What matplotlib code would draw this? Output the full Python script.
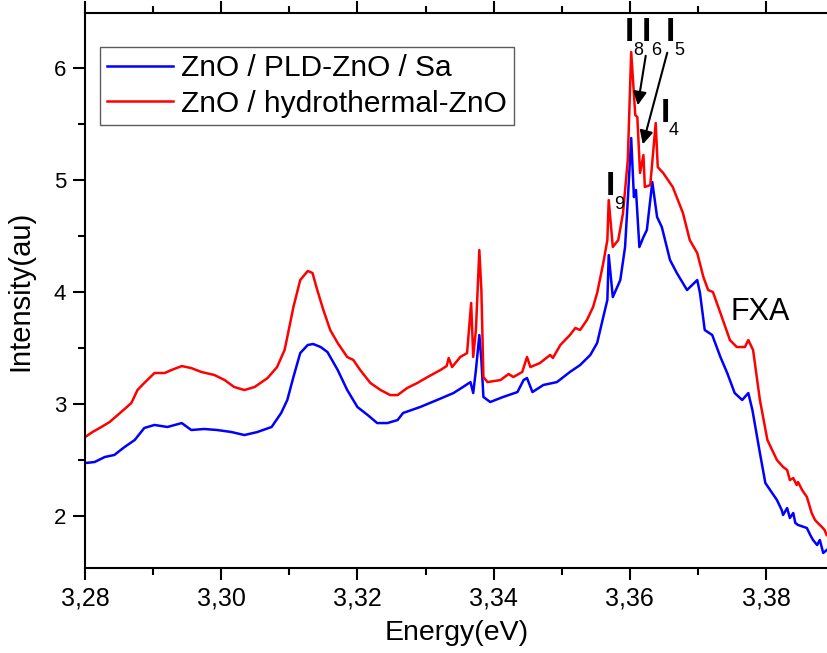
import matplotlib.pyplot as plt
from matplotlib.ticker import MultipleLocator

# photoluminescence spectra
energy_red = [3.2800, 3.2811, 3.2824, 3.2836, 3.2848, 3.2858, 3.2868, 3.2877, 3.2887, 3.2902,
              3.2917, 3.2927, 3.2942, 3.2956, 3.2971, 3.2990, 3.3005, 3.3019, 3.3034, 3.3049,
              3.3068, 3.3082, 3.3093, 3.3097, 3.3106, 3.3116, 3.3127, 3.3134, 3.3141, 3.3150,
              3.3160, 3.3171, 3.3185, 3.3194, 3.3204, 3.3219, 3.3234, 3.3248, 3.3259, 3.3273,
              3.3288, 3.3303, 3.3322, 3.3331, 3.3334, 3.3339, 3.3351, 3.3361, 3.3367, 3.3370,
              3.3374, 3.3379, 3.3382, 3.3385, 3.3391, 3.3410, 3.3422, 3.3429, 3.3442, 3.3449,
              3.3454, 3.3468, 3.3483, 3.3487, 3.3498, 3.3512, 3.3520, 3.3527, 3.3537, 3.3546,
              3.3552, 3.3561, 3.3567, 3.3569, 3.3575, 3.3583, 3.3590, 3.3597, 3.3602, 3.3608,
              3.3611, 3.3615, 3.3620, 3.3622, 3.3630, 3.3638, 3.3641, 3.3649, 3.3663, 3.3678,
              3.3688, 3.3699, 3.3708, 3.3715, 3.3722, 3.3733, 3.3747, 3.3757, 3.3769, 3.3774,
              3.3781, 3.3791, 3.3802, 3.3816, 3.3825, 3.3831, 3.3835, 3.3840, 3.3845, 3.3847,
              3.3853, 3.3860, 3.3867, 3.3872, 3.3876, 3.3882, 3.3886, 3.3889]
intensity_red = [2.705, 2.750, 2.795, 2.839, 2.902, 2.955, 3.009, 3.125, 3.188, 3.277,
                 3.277, 3.304, 3.339, 3.321, 3.286, 3.259, 3.214, 3.152, 3.125, 3.152,
                 3.232, 3.330, 3.482, 3.598, 3.866, 4.107, 4.188, 4.170, 4.018, 3.839,
                 3.661, 3.545, 3.420, 3.393, 3.304, 3.188, 3.125, 3.080, 3.080, 3.143,
                 3.188, 3.241, 3.304, 3.339, 3.411, 3.330, 3.420, 3.455, 3.902, 3.420,
                 3.661, 4.375, 4.018, 3.241, 3.196, 3.214, 3.268, 3.241, 3.286, 3.420,
                 3.330, 3.366, 3.438, 3.411, 3.527, 3.616, 3.679, 3.661, 3.750, 3.866,
                 3.991, 4.259, 4.464, 4.821, 4.402, 4.464, 4.705, 5.179, 6.143, 5.580,
                 5.563, 5.063, 5.223, 4.938, 4.955, 5.509, 5.116, 5.063, 4.938, 4.705,
                 4.464, 4.348, 4.134, 4.018, 4.000, 3.813, 3.571, 3.509, 3.509, 3.571,
                 3.482, 3.036, 2.679, 2.500, 2.438, 2.411, 2.321, 2.339, 2.277, 2.304,
                 2.232, 2.170, 2.027, 1.964, 1.938, 1.902, 1.875, 1.830]

energy_blue = [3.2800, 3.2814, 3.2829, 3.2843, 3.2858, 3.2873, 3.2887, 3.2902, 3.2921, 3.2942,
               3.2956, 3.2975, 3.2994, 3.3015, 3.3034, 3.3053, 3.3074, 3.3088, 3.3097, 3.3106,
               3.3116, 3.3127, 3.3135, 3.3146, 3.3156, 3.3171, 3.3185, 3.3200, 3.3215, 3.3229,
               3.3244, 3.3259, 3.3267, 3.3292, 3.3317, 3.3341, 3.3355, 3.3366, 3.3370, 3.3374,
               3.3379, 3.3382, 3.3385, 3.3395, 3.3414, 3.3435, 3.3444, 3.3449, 3.3457, 3.3473,
               3.3493, 3.3512, 3.3527, 3.3542, 3.3552, 3.3561, 3.3567, 3.3569, 3.3575, 3.3586,
               3.3593, 3.3597, 3.3602, 3.3606, 3.3609, 3.3614, 3.3620, 3.3625, 3.3633, 3.3640,
               3.3647, 3.3659, 3.3669, 3.3684, 3.3699, 3.3703, 3.3710, 3.3721, 3.3733, 3.3743,
               3.3754, 3.3765, 3.3774, 3.3780, 3.3791, 3.3799, 3.3806, 3.3816, 3.3823, 3.3825,
               3.3831, 3.3835, 3.3840, 3.3843, 3.3847, 3.3860, 3.3865, 3.3869, 3.3875, 3.3879,
               3.3884, 3.3889]
intensity_blue = [2.473, 2.482, 2.527, 2.545, 2.616, 2.679, 2.786, 2.813, 2.795, 2.830,
                  2.768, 2.777, 2.768, 2.750, 2.723, 2.750, 2.795, 2.920, 3.036, 3.241,
                  3.455, 3.527, 3.536, 3.509, 3.464, 3.304, 3.125, 2.973, 2.902, 2.830,
                  2.830, 2.857, 2.920, 2.973, 3.036, 3.098, 3.152, 3.196, 3.098, 3.304,
                  3.616, 3.393, 3.063, 3.018, 3.063, 3.107, 3.214, 3.232, 3.107, 3.170,
                  3.196, 3.286, 3.348, 3.438, 3.545, 3.777, 3.929, 4.330, 3.955, 4.107,
                  4.402, 4.821, 5.375, 4.848, 4.911, 4.402, 4.491, 4.554, 4.982, 4.670,
                  4.580, 4.286, 4.170, 4.018, 4.107, 3.991, 3.661, 3.616, 3.420, 3.277,
                  3.098, 3.036, 3.098, 2.946, 2.563, 2.295, 2.232, 2.143, 2.054, 2.009,
                  2.071, 1.982, 2.027, 1.938, 1.920, 1.893, 1.830, 1.786, 1.741, 1.786,
                  1.670, 1.696]

x_ticks = [3.28, 3.30, 3.32, 3.34, 3.36, 3.38]
x_tick_labels = ["3,28", "3,30", "3,32", "3,34", "3,36", "3,38"]
y_ticks = [2, 3, 4, 5, 6]

plt.rcParams['font.family'] = ['Liberation Sans', 'DejaVu Sans']

fig = plt.figure(figsize=(8.28, 6.53), dpi=100)
ax = fig.add_axes([0.1027, 0.1302, 0.8973, 0.8498])

ax.plot(energy_blue, intensity_blue, color="#0000ff", lw=1.8, label="ZnO / PLD-ZnO / Sa")
ax.plot(energy_red, intensity_red, color="#ff0000", lw=1.8, label="ZnO / hydrothermal-ZnO")

ax.set_xlim(3.28, 3.3891)
ax.set_ylim(1.536, 6.491)
ax.set_xticks(x_ticks)
ax.set_xticklabels(x_tick_labels)
ax.set_yticks(y_ticks)
ax.xaxis.set_minor_locator(MultipleLocator(0.01))
ax.yaxis.set_minor_locator(MultipleLocator(0.5))
ax.tick_params(which="both", direction="out", top=True, width=1.5)
ax.tick_params(which="major", length=8.5)
ax.tick_params(which="minor", length=5)
ax.tick_params(axis="x", labelsize=18, pad=5)
ax.tick_params(axis="y", labelsize=16, pad=5)
ax.spines["right"].set_visible(False)
for s in ["left", "bottom", "top"]:
    ax.spines[s].set_linewidth(1.5)

ax.set_xlabel("Energy(eV)", fontsize=20.5, labelpad=7)
ax.set_ylabel("Intensity(au)", fontsize=21, labelpad=14)

leg = ax.legend(loc="upper left", bbox_to_anchor=(0.02, 0.939), borderaxespad=0,
                fontsize=21.5, frameon=True, fancybox=False, edgecolor="#333333",
                handlelength=2.2, handletextpad=0.25, borderpad=0.25, labelspacing=0.25)
leg.get_frame().set_linewidth(1.0)

# peak labels
peaks = [("8", 3.3599, 6.313), ("6", 3.3625, 6.313), ("5", 3.3659, 6.313),
         ("4", 3.3652, 5.598), ("9", 3.3571, 4.938)]
for sub, xe, yi in peaks:
    ax.text(xe, yi, "I", fontsize=24, fontweight="bold", ha="center", va="center")
    ax.text(xe + 0.0013, yi - 0.16, sub, fontsize=13, ha="center", va="center")

ax.annotate("", xy=(3.3611, 5.643), xytext=(3.3624, 6.134),
            arrowprops=dict(arrowstyle="-|>", color="black", lw=1.5, mutation_scale=20))
ax.annotate("", xy=(3.3618, 5.295), xytext=(3.3656, 6.161),
            arrowprops=dict(arrowstyle="-|>", color="black", lw=1.5, mutation_scale=20))
ax.text(3.3791, 3.821, "FXA", fontsize=22, ha="center", va="center")

fig.savefig("out.png", dpi=100)
